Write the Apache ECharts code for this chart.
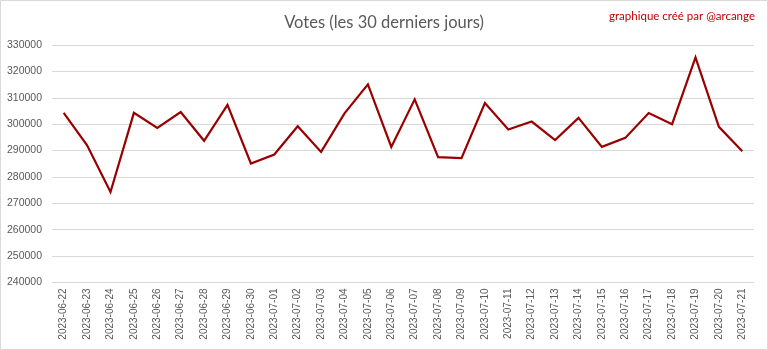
<!DOCTYPE html>
<html>
<head>
<meta charset="utf-8">
<script src="https://cdn.jsdelivr.net/npm/echarts@6/dist/echarts.min.js"></script>
<style>
html,body{margin:0;padding:0;background:#fff;}
#c{width:768px;height:350px;}
</style>
</head>
<body>
<div id="c"></div>
<script>
const categories = ["2023-06-22","2023-06-23","2023-06-24","2023-06-25","2023-06-26","2023-06-27","2023-06-28","2023-06-29","2023-06-30","2023-07-01","2023-07-02","2023-07-03","2023-07-04","2023-07-05","2023-07-06","2023-07-07","2023-07-08","2023-07-09","2023-07-10","2023-07-11","2023-07-12","2023-07-13","2023-07-14","2023-07-15","2023-07-16","2023-07-17","2023-07-18","2023-07-19","2023-07-20","2023-07-21"];
const votes = [304300,292000,274300,304300,298600,304600,293700,307300,285100,288500,299200,289500,304100,315100,291400,309400,287500,287100,308000,298000,301000,294000,302400,291400,294800,304200,300000,325300,299000,289700];
const titleText = "Votes (les 30 derniers jours)";
const creditText = "graphique créé par @arcange";

const chart = echarts.init(document.getElementById('c'), null, {renderer:'canvas'});
chart.setOption({
  animation: false,
  backgroundColor: '#ffffff',
  title: [
    {text: titleText, left: 'center', top: 9,
     textStyle: {fontFamily: 'Lato', fontWeight: 'normal', fontSize: 16.5, color: '#595959'}},
    {text: creditText, right: 8, top: 5,
     textStyle: {fontFamily: 'Lato', fontWeight: 'normal', fontSize: 11.5, color: '#c00000'}}
  ],
  graphic: [{
    type: 'rect', silent: true, z: -1,
    shape: {x: 0.5, y: 0.5, width: 767, height: 349},
    style: {fill: 'none', stroke: '#d9d9d9', lineWidth: 1}
  }],
  grid: {left: 52, right: 14, top: 45, bottom: 67.5, containLabel: false},
  xAxis: {
    type: 'category', data: categories, boundaryGap: true,
    axisLine: {show: true, lineStyle: {color: '#d9d9d9', width: 1}},
    axisTick: {show: false},
    axisLabel: {rotate: 90, interval: 0, margin: 6, fontFamily: 'Liberation Sans', fontSize: 10, color: '#595959'}
  },
  yAxis: {
    type: 'value', min: 240000, max: 330000, interval: 10000,
    axisLine: {show: false}, axisTick: {show: false},
    splitLine: {lineStyle: {color: '#d9d9d9', width: 1}},
    axisLabel: {margin: 10, fontFamily: 'Liberation Sans', fontSize: 10.5, color: '#595959',
      formatter: function (v) { return String(v); }}
  },
  series: [{
    type: 'line', data: votes, symbol: 'none',
    lineStyle: {color: '#990000', width: 2.2, join: 'miter'},
    itemStyle: {color: '#990000'}
  }]
});
</script>
</body>
</html>
